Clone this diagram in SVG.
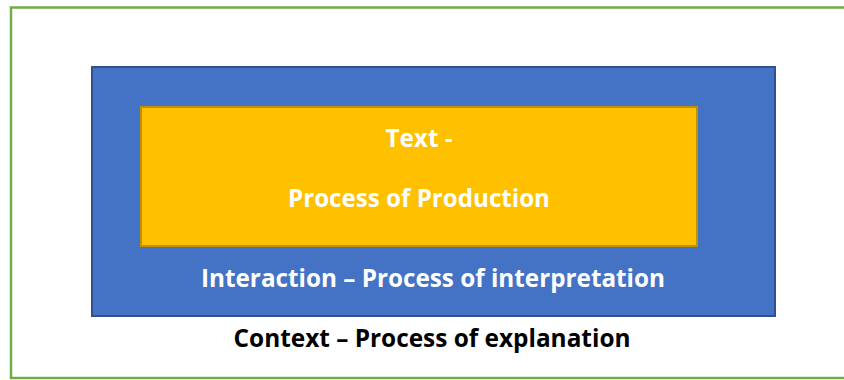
<svg xmlns="http://www.w3.org/2000/svg" width="844" height="380" viewBox="0 0 844 380">
  <style>
    .lbl { font-family: "Open Sans", "Liberation Sans", sans-serif; font-weight: 700; font-size: 25px; text-anchor: middle; }
    .light { fill: #FFFFFF; }
    .dark { fill: #000000; }
  </style>
  <rect width="844" height="380" fill="#FFFFFF"/>

  <!-- context frame -->
  <g id="context">
    <rect x="11" y="7.5" width="850" height="370.5" fill="none" stroke="#70AD47" stroke-width="2.5"/>
    <text class="lbl dark" x="432" y="347" textLength="397" lengthAdjust="spacingAndGlyphs">Context – Process of explanation</text>
  </g>

  <!-- interaction layer -->
  <g id="interaction">
    <rect x="92" y="67" width="683" height="249" fill="#4472C4" stroke="#2F528F" stroke-width="2"/>
    <text class="lbl light" x="433" y="287" textLength="464" lengthAdjust="spacingAndGlyphs">Interaction – Process of interpretation</text>
  </g>

  <!-- text layer -->
  <g id="text">
    <rect x="141" y="107" width="556" height="139" fill="#FFC000" stroke="#BF9000" stroke-width="2"/>
    <text class="lbl light" x="419" y="147" textLength="67" lengthAdjust="spacingAndGlyphs">Text -</text>
    <text class="lbl light" x="419" y="207" textLength="262" lengthAdjust="spacingAndGlyphs">Process of Production</text>
  </g>

  <g id="connectors"/>
</svg>
